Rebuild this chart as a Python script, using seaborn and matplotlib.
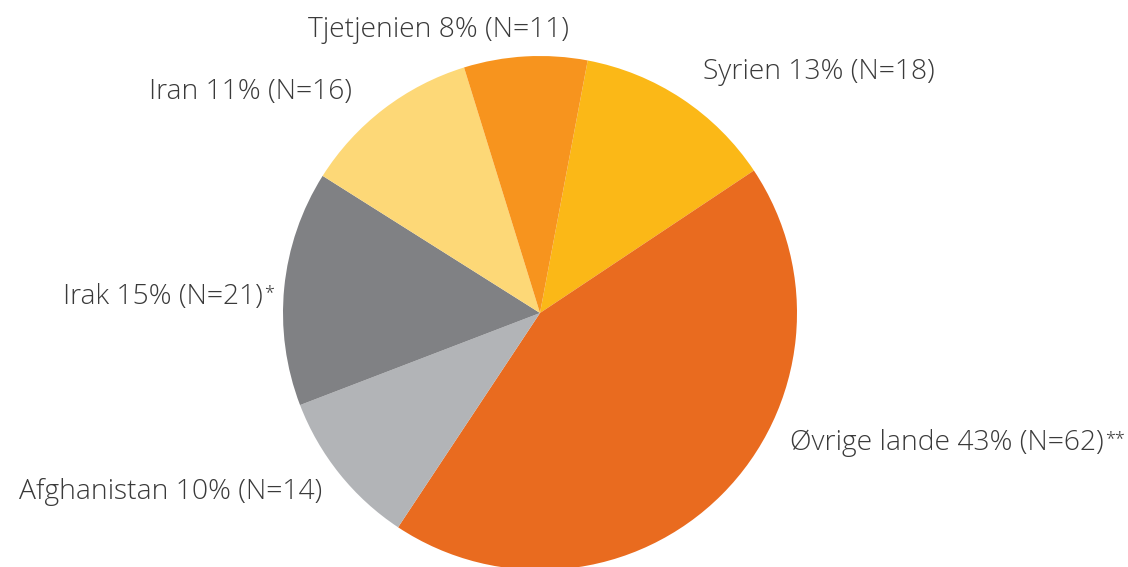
import matplotlib
matplotlib.use("Agg")
import matplotlib.pyplot as plt
import seaborn as sns

sns.set_theme(style="white")
plt.rcParams['font.family'] = ['Open Sans', 'DejaVu Sans']

categories = ["Syrien", "Øvrige lande", "Afghanistan", "Irak", "Iran", "Tjetjenien"]
counts = [18, 62, 14, 21, 16, 11]
pct_labels = ["13%", "43%", "10%", "15%", "11%", "8%"]
suffixes = ["", "**", "", "*", "", ""]
colors = ["#FBB817", "#E96B1F", "#B2B4B7", "#808184", "#FDD877", "#F7941E"]

W, H = 1128, 567
fig = plt.figure(figsize=(W / 100, H / 100), dpi=100)
cx, cy, r = 540, 313, 257
ax = fig.add_axes([(cx - r) / W, (H - cy - r) / H, 2 * r / W, 2 * r / H])

ax.pie(counts, colors=colors, startangle=79.3, counterclock=False,
       radius=1, wedgeprops=dict(linewidth=0))
ax.set_xlim(-1, 1)
ax.set_ylim(-1, 1)
ax.set_aspect("equal")
ax.axis("off")

# label anchor positions in pixels (x, y, ha)
label_pos = [(703, 72, "left"), (790, 443, "left"), (322, 492, "right"),
             (263, 297, "right"), (352, 92, "right"), (438, 30, "center")]

for cat, n, p, s, (px, py, ha) in zip(categories, counts, pct_labels, suffixes, label_pos):
    txt = f"{cat} {p} (N={n})"
    t = ax.text((px - cx) / r, (cy - py) / r, txt, ha=ha, va="center",
                fontsize=20.3, fontweight="light", color="#3a3a3a", clip_on=False)
    if s:
        ax.annotate(s, xy=(1, 1), xycoords=t, xytext=(1, -1), textcoords="offset points",
                    ha="left", va="top", fontsize=13, fontweight="light",
                    color="#3a3a3a", annotation_clip=False)

fig.savefig("out.png", dpi=100)
